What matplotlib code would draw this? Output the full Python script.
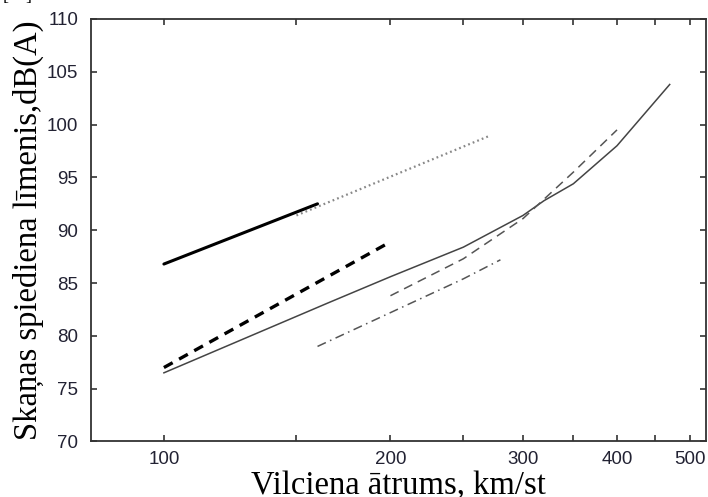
import matplotlib
matplotlib.use('Agg')
import matplotlib.pyplot as plt
from matplotlib.ticker import FixedLocator, NullLocator, NullFormatter

# Data
thick_solid_x = [100, 160]
thick_solid_y = [86.8, 92.5]

dotted_x = [150, 270]
dotted_y = [91.4, 98.9]

thick_dash_x = [100, 200]
thick_dash_y = [77.0, 88.9]

thin_solid_x = [100, 165, 200, 250, 300, 320, 350, 400, 470]
thin_solid_y = [76.5, 83.1, 85.6, 88.4, 91.4, 92.8, 94.4, 98.0, 103.8]

thin_dash_x = [200, 250, 300, 350, 400]
thin_dash_y = [83.8, 87.3, 91.1, 95.5, 99.5]

dashdot_x = [160, 200, 250, 280]
dashdot_y = [79.0, 82.2, 85.4, 87.2]

xticks = [100, 150, 200, 250, 300, 350, 400, 450, 500]
xlabels = ['100', '', '200', '', '300', '', '400', '', '500']
yticks = [70, 75, 80, 85, 90, 95, 100, 105, 110]

fig = plt.figure(figsize=(7.08, 4.97), dpi=100)
ax = fig.add_axes([0.1285, 0.1117, 0.8685, 0.8501])

ax.plot(thick_solid_x, thick_solid_y, color='black', lw=2.2, solid_capstyle='round')
ax.plot(dotted_x, dotted_y, color='#888888', lw=1.6, linestyle=(0, (0.8, 1.4)))
ax.plot(thick_dash_x, thick_dash_y, color='black', lw=2.4, linestyle=(0, (3, 2.2)))
ax.plot(thin_solid_x, thin_solid_y, color='#444444', lw=1.1)
ax.plot(thin_dash_x, thin_dash_y, color='#555555', lw=1.1, linestyle=(0, (6, 4)))
ax.plot(dashdot_x, dashdot_y, color='#555555', lw=1.1, linestyle=(0, (6, 3, 1, 3)))

ax.set_xscale('log')
ax.set_xlim(80, 525)
ax.set_ylim(70, 110)
ax.xaxis.set_major_locator(FixedLocator(xticks))
ax.set_xticklabels(xlabels)
ax.xaxis.set_minor_locator(NullLocator())
ax.xaxis.set_minor_formatter(NullFormatter())
ax.set_yticks(yticks)

ax.tick_params(direction='in', length=4, width=1.2, color='#333333',
               top=True, right=True, labelsize=13.5, labelcolor='#222233')
ax.tick_params(axis='y', pad=9)
ax.tick_params(axis='x', pad=7)
for lab in ax.get_xticklabels() + ax.get_yticklabels():
    lab.set_family('Liberation Sans')
for s in ax.spines.values():
    s.set_color('#333333')
    s.set_linewidth(1.3)

ax.set_xlabel('Vilciena ātrums, km/st', family='Liberation Serif', fontsize=23.5)
ax.set_ylabel('Skaņas spiediena līmenis,dB(A)', family='Liberation Serif', fontsize=23.5)
ax.xaxis.set_label_coords(0.5, -0.069)
ax.yaxis.set_label_coords(-0.076, 0.5)

# cropped reference marker at the very top-left edge
fig.text(0.004, 0.999, '[10]', family='Liberation Serif', fontsize=13, va='baseline')

fig.savefig('out.png', dpi=100)
